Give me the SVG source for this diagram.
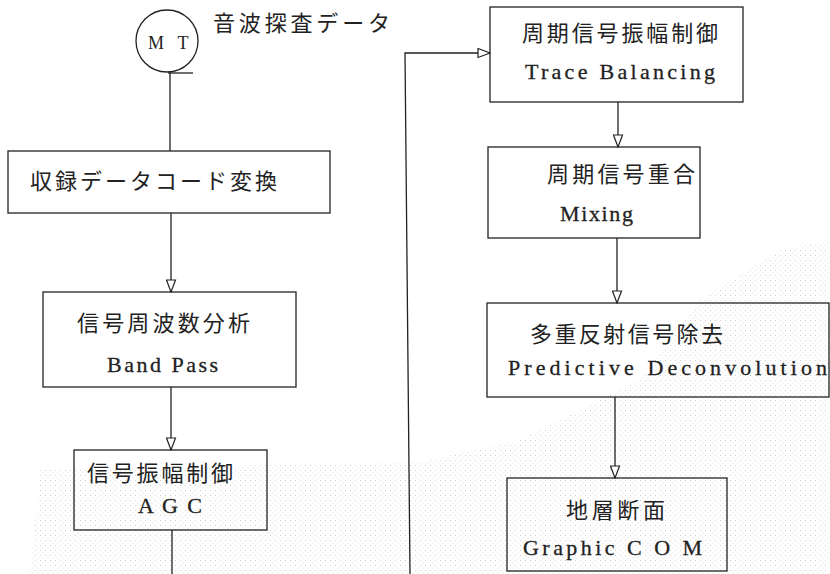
<svg xmlns="http://www.w3.org/2000/svg" width="830" height="574" viewBox="0 0 830 574">
<style>
.box{fill:none;stroke:#222;stroke-width:1.3}
.ln{fill:none;stroke:#222;stroke-width:1.3}
.jp{font-family:"Noto Sans CJK JP","Noto Sans CJK SC",sans-serif;font-size:22px;fill:#222}
.en{font-family:"Liberation Serif",serif;font-size:22px;fill:#222;stroke:#222;stroke-width:0.3}
</style>
<defs>
<marker id="ah" markerWidth="14" markerHeight="11" refX="13" refY="5.5" orient="auto" markerUnits="userSpaceOnUse" viewBox="0 0 14 11">
<path d="M1,1 L1,10 L13,5.5 Z" fill="#fff" stroke="#222" stroke-width="1.2"/>
</marker>
<pattern id="stip" width="5" height="5" patternUnits="userSpaceOnUse">
<rect x="0" y="0" width="1" height="1" fill="#bdbdbd"/>
<rect x="2.5" y="2.5" width="1" height="1" fill="#d0d0d0"/>
</pattern>
</defs>
<rect width="830" height="574" fill="#fff"/>
<polygon points="40,470 420,462 520,440 640,380 700,300 780,250 830,240 830,574 30,574" fill="url(#stip)" opacity="0.7"/>
<g id="connectors">
<line class="ln" x1="170" y1="72" x2="170" y2="151"/>
<line class="ln" x1="171" y1="213" x2="171" y2="292" marker-end="url(#ah)"/>
<line class="ln" x1="171" y1="387" x2="171" y2="450" marker-end="url(#ah)"/>
<line class="ln" x1="172" y1="530" x2="172" y2="574"/>
<polyline class="ln" points="410,574 405,53 490,53" marker-end="url(#ah)"/>
<line class="ln" x1="618" y1="102" x2="618" y2="147" marker-end="url(#ah)"/>
<line class="ln" x1="617" y1="238" x2="617" y2="303" marker-end="url(#ah)"/>
<line class="ln" x1="615" y1="397" x2="615" y2="478" marker-end="url(#ah)"/>
</g>
<g id="mt">
<circle class="box" cx="167" cy="41" r="31"/>
<line class="ln" x1="168" y1="73" x2="193" y2="73"/>
<text x="156" y="49" text-anchor="middle" style="font-family:'Liberation Serif',serif;font-size:18px;fill:#222">M</text>
<text x="183" y="49" text-anchor="middle" style="font-family:'Liberation Serif',serif;font-size:18px;fill:#222">T</text>
<text class="jp" x="213" y="31" textLength="177">音波探査データ</text>
</g>
<g id="n1">
<rect class="box" x="8" y="151" width="322" height="62"/>
<text class="jp" x="30" y="189" textLength="247">収録データコード変換</text>
</g>
<g id="n2">
<rect class="box" x="43" y="292" width="253" height="95"/>
<text class="jp" x="77" y="331" textLength="173">信号周波数分析</text>
<text class="en" x="107" y="372" textLength="111">Band Pass</text>
</g>
<g id="n3">
<rect class="box" x="74" y="450" width="193" height="80"/>
<text class="jp" x="87" y="481" textLength="146">信号振幅制御</text>
<text class="en" x="138" y="513" textLength="64">A G C</text>
</g>
<g id="n4">
<rect class="box" x="490" y="7" width="253" height="95"/>
<text class="jp" x="522" y="41" textLength="196">周期信号振幅制御</text>
<text class="en" x="525" y="79" textLength="190">Trace Balancing</text>
</g>
<g id="n5">
<rect class="box" x="488" y="147" width="212" height="91"/>
<text class="jp" x="547" y="182" textLength="148">周期信号重合</text>
<text class="en" x="560" y="221" textLength="73">Mixing</text>
</g>
<g id="n6">
<rect class="box" x="487" y="303" width="342" height="94"/>
<text class="jp" x="530" y="342" textLength="193">多重反射信号除去</text>
<text class="en" x="508" y="375" textLength="319">Predictive  Deconvolution</text>
</g>
<g id="n7">
<rect class="box" x="507" y="478" width="220" height="93"/>
<text class="jp" x="566" y="518" textLength="99">地層断面</text>
<text class="en" x="523" y="555" textLength="179">Graphic  C O M</text>
</g>
</svg>
